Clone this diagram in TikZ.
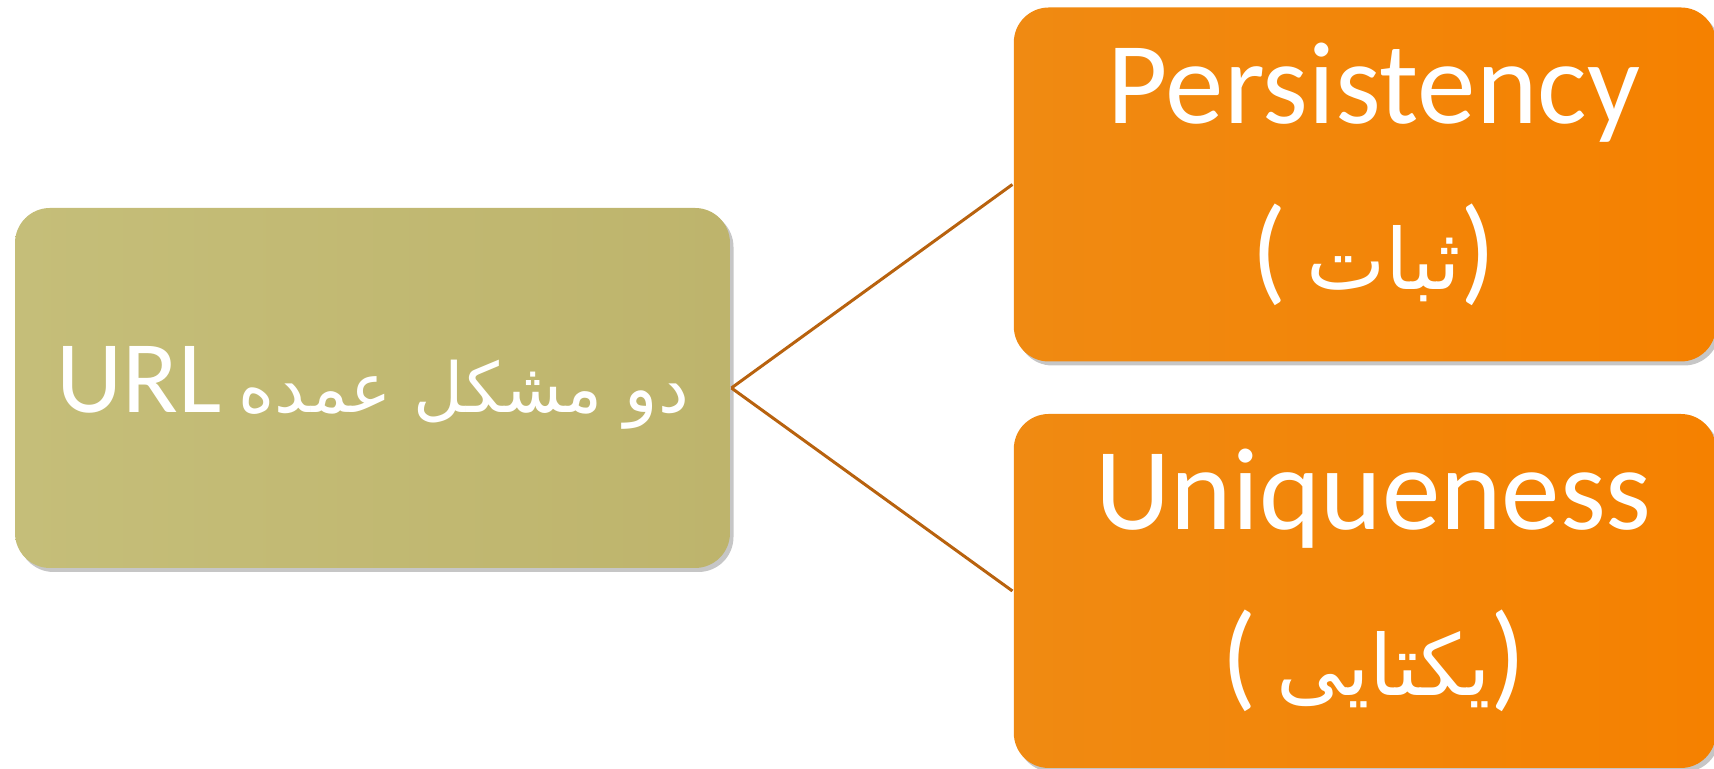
\documentclass[tikz,border=0pt]{standalone}
\usepackage{fontspec}
\setmainfont{Carlito}
\newfontfamily\arabicfont[Script=Arabic,Scale=0.72]{DejaVu Sans}
\newfontfamily\arabictopic[Script=Arabic,Scale=0.67]{DejaVu Sans}
\TeXXeTstate=1
\usepackage{xcolor}
\usetikzlibrary{positioning,shadows}

\definecolor{oliveL}{HTML}{C5BE79}
\definecolor{oliveR}{HTML}{BEB46C}
\definecolor{orangeL}{HTML}{F08A12}
\definecolor{orangeR}{HTML}{F58100}
\definecolor{linkline}{HTML}{B8620E}

\begin{document}
\begin{tikzpicture}[
    thick,
    topic/.style={rectangle,rounded corners=0.35cm,left color=oliveL,right color=oliveR,text=white,font=\fontsize{29.3}{36}\selectfont,minimum width=7.15cm,minimum height=3.6cm,drop shadow={shadow xshift=0.035cm,shadow yshift=-0.04cm,opacity=0.45}},
    issue/.style={rectangle,rounded corners=0.35cm,left color=orangeL,right color=orangeR,minimum width=7.02cm,minimum height=3.54cm,drop shadow={shadow xshift=0.035cm,shadow yshift=-0.04cm,opacity=0.45}},
    issue text/.style={text=white,align=center,font=\fontsize{33.3}{47.2}\selectfont},
    link/.style={draw=linkline,line width=0.85pt}
]
\useasboundingbox (0,0) rectangle (17.14,7.69);

% Main topic
\node[topic] (url) at (3.725,3.81) {URL\,{\arabictopic\beginR دو مشکل عمده\endR}};

% The two problems
\node[issue, right=2.81cm of url, yshift=2.035cm] (persist) {};
\node[issue, right=2.81cm of url, yshift=-2.03cm] (unique) {};
\node[issue text, xshift=0.09cm, yshift=0.105cm] (persisttext) at (persist) {Persistency\\(\,{\arabicfont\beginR ثبات\endR})};
\node[issue text, xshift=0.09cm, yshift=0.105cm] (uniquetext) at (unique) {Uniqueness\\(\,{\arabicfont\beginR یکتایی\endR})};

% Links
\draw[link] (url.east) -- (persist.west);
\draw[link] (url.east) -- (unique.west);

\end{tikzpicture}
\end{document}
